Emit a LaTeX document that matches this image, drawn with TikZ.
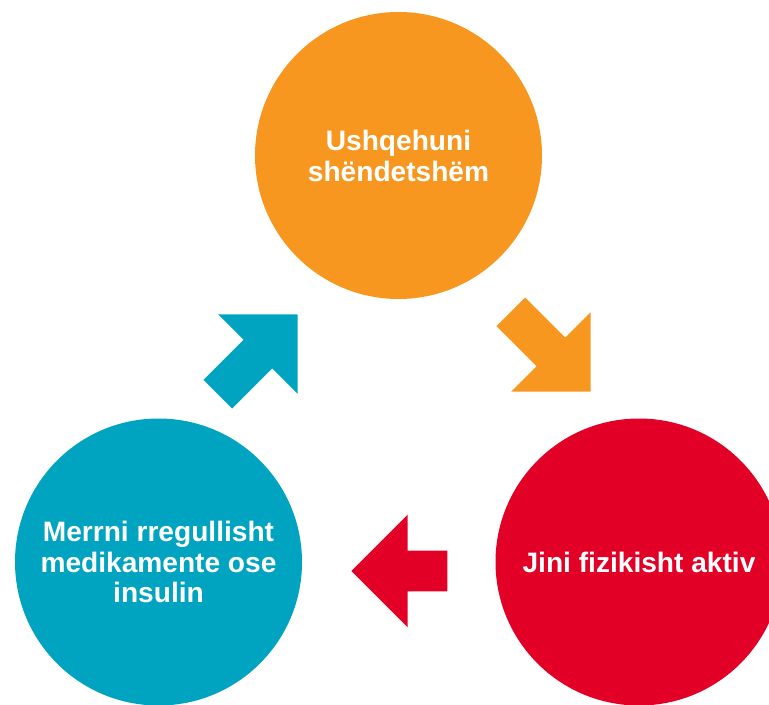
\documentclass[tikz,border=0pt]{standalone}
\usepackage{fontspec}
\setmainfont{Liberation Sans}
\usetikzlibrary{shapes.arrows}
\definecolor{careteal}{RGB}{0,164,192}
\definecolor{careorange}{RGB}{247,151,32}
\definecolor{carered}{RGB}{226,0,38}

\begin{document}
\begin{tikzpicture}[
  blob/.style={circle, minimum size=7.175cm, inner sep=0pt, text=white, align=center, font=\fontsize{20}{22}\selectfont\bfseries},
  blockarrow/.style={single arrow, single arrow tip angle=90, single arrow head extend=0.9cm, inner xsep=0pt, inner ysep=0.5cm, anchor=tip}
]
  \useasboundingbox (0,0) rectangle (19.225,17.6);
  \clip (0,0) rectangle (19.225,17.6);
  \node[blob, fill=careorange] (food) at (9.9625,13.7125) {Ushqehuni\\shëndetshëm};
  \node[blob, fill=carered] (move) at (15.975,3.55) {Jini fizikisht aktiv};
  \node[blob, fill=careteal] (meds) at (3.9625,3.55) {Merrni rregullisht\\medikamente ose\\insulin};
  \node[blockarrow, fill=careorange, minimum height=2.825cm, rotate=-45] (foodmove) at (14.775,7.8) {};
  \node[blockarrow, fill=carered, minimum height=2.4cm, rotate=180] (movemeds) at (8.775,3.325) {};
  \node[blockarrow, fill=careteal, minimum height=2.825cm, rotate=45] (medsfood) at (7.45,9.75) {};
\end{tikzpicture}
\end{document}
